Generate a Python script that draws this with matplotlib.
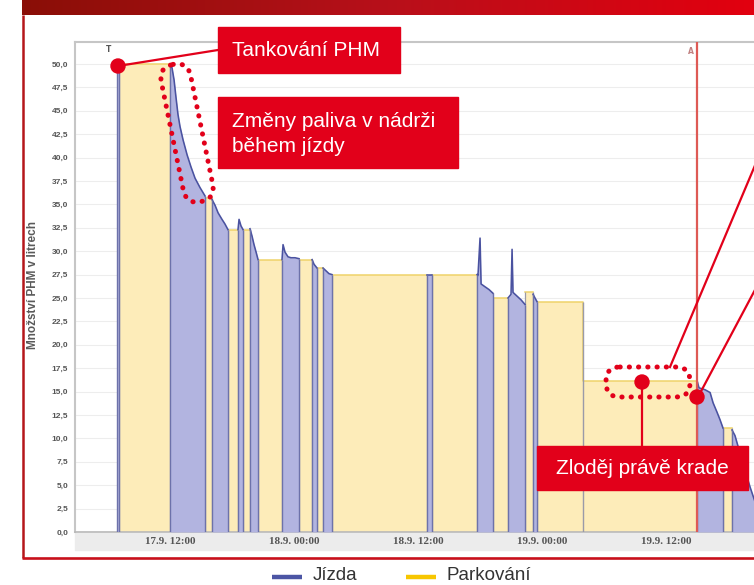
import numpy as np
import matplotlib
matplotlib.use("Agg")
import matplotlib.pyplot as plt
from matplotlib.patches import Rectangle, FancyBboxPatch, Circle
from matplotlib.colors import LinearSegmentedColormap
from matplotlib.transforms import Affine2D

W, H = 754, 585

# úseky záznamu: čas v hodinách od 17.9. 00:00, stav nádrže v litrech
cas_h = [
    [6.82, 7.06],
    [7.06, 12.00],
    [12.00, 12.10, 12.19, 12.39, 12.58, 12.77, 12.97, 13.26, 13.65, 14.03, 14.42, 14.90, 15.39],
    [15.39, 16.07],
    [16.07, 16.36, 16.65, 17.03, 17.32, 17.61],
    [17.61, 18.58],
    [18.58, 18.68, 18.87, 19.07],
    [19.07, 19.74],
    [19.74, 19.94, 20.13, 20.33, 20.52],
    [20.52, 22.84],
    [22.84, 22.94, 23.13, 23.42, 23.71, 24.10, 24.49],
    [24.49, 25.75],
    [25.75, 25.94, 26.23],
    [26.23, 26.81],
    [26.81, 27.10, 27.39, 27.68],
    [27.68, 36.88],
    [36.88, 37.36],
    [37.36, 41.72],
    [41.72, 41.81, 42.01, 42.11, 42.49, 42.88, 43.27],
    [43.27, 44.72],
    [44.72, 45.01, 45.11, 45.20, 45.59, 45.98, 46.37],
    [46.37, 47.14],
    [47.14, 47.33, 47.53],
    [47.53, 51.98, 51.98, 63.02],
    [63.02, 63.21, 63.79, 64.28, 64.57, 64.95, 65.24, 65.53],
    [65.53, 66.40],
    [66.40, 66.69, 67.18, 67.66, 68.15, 68.73],
]
palivo_l = [
    [50.0, 50.0],
    [50.0, 50.0],
    [50.0, 49.8, 49.6, 48.3, 46.4, 44.6, 43.3, 41.9, 40.3, 39.0, 37.8, 36.8, 35.9],
    [35.7, 35.7],
    [35.5, 34.9, 34.1, 33.4, 32.9, 32.3],
    [32.3, 32.3],
    [32.3, 33.4, 32.7, 32.3],
    [32.3, 32.3],
    [32.4, 31.6, 30.7, 29.9, 29.1],
    [29.1, 29.1],
    [29.1, 30.7, 29.9, 29.4, 29.3, 29.3, 29.2],
    [29.1, 29.1],
    [29.1, 28.6, 28.2],
    [28.2, 28.2],
    [28.2, 27.9, 27.6, 27.5],
    [27.5, 27.5],
    [27.5, 27.5],
    [27.5, 27.5],
    [27.5, 27.4, 31.4, 26.5, 26.2, 25.9, 25.5],
    [25.0, 25.0],
    [25.0, 25.4, 30.2, 25.6, 25.2, 24.8, 24.3],
    [25.6, 25.6],
    [25.4, 25.0, 24.6],
    [24.6, 24.6, 16.1, 16.1],
    [16.1, 15.4, 15.2, 14.9, 13.8, 12.8, 12.0, 11.1],
    [11.1, 11.1],
    [10.9, 10.3, 8.4, 6.6, 4.8, 2.9],
]
# J = jízda, P = parkování
rezim = ["J", "P"] * 13 + ["J"]

tick_hod = [12, 24, 36, 48, 60]
tick_popisky = ["17.9. 12:00", "18.9. 00:00", "18.9. 12:00", "19.9. 00:00", "19.9. 12:00"]
y_ticky = np.arange(0, 50.01, 2.5)
cas_alarm = 63.02

MODRA_FILL = "#b2b4e0"
MODRA_CARA = "#4a52a0"
ZLUTA_FILL = "#fdecb9"
ZLUTA_CARA = "#efd36a"
SEDA_HRANA = "#9a9aa8"
CERVENA = "#e2001a"

fig = plt.figure(figsize=(W / 100, H / 100), dpi=100)
fig.patch.set_facecolor("white")

# ── hlavní graf ──────────────────────────────────────────────
ax = fig.add_axes([75 / W, 1 - 532 / H, (W - 75) / W, (532 - 42) / H])
ax.set_xlim(2.8, 68.53)
ax.set_ylim(0, 52.35)

for t, v, r in zip(cas_h, palivo_l, rezim):
    if r == "P":
        ax.fill_between(t, 0, v, color=ZLUTA_FILL, lw=0, zorder=2)
        ax.plot(t, v, color=ZLUTA_CARA, lw=1.1, zorder=3)
        ax.vlines([t[0], t[-1]], 0, [v[0], v[-1]], color=SEDA_HRANA, lw=0.9, zorder=3)
        for i in range(1, len(t)):
            if t[i] == t[i - 1]:
                ax.vlines(t[i], 0, max(v[i], v[i - 1]), color=SEDA_HRANA, lw=1.0, zorder=3)
    else:
        ax.fill_between(t, 0, v, color=MODRA_FILL, lw=0, zorder=4)
        ax.plot(t, v, color=MODRA_CARA, lw=1.15, zorder=5)
        ax.vlines([t[0], t[-1]], 0, [v[0], v[-1]], color="#6d72aa", lw=1.0, zorder=5)

ax.axvline(cas_alarm, color="#de5a55", lw=1.6, zorder=7)
ax.text(cas_h[0][0] - 0.75, 51.5, "T", fontsize=5.5, fontweight="bold",
        color="#555555", ha="center", va="center")
ax.text(cas_alarm - 0.55, 51.3, "A", fontsize=5.5, fontweight="bold",
        color="#c08080", ha="center", va="center")

ax.set_yticks(y_ticky)
ax.set_yticklabels([f"{y:.1f}".replace(".", ",") for y in y_ticky],
                   fontsize=6, fontweight="bold", color="#555555",
                   family="Liberation Sans")
ax.set_xticks(tick_hod)
ax.set_xticklabels(tick_popisky, fontsize=8, fontweight="bold", color="#555555",
                   family="Liberation Serif")
ax.tick_params(axis="y", length=0, pad=5)
ax.tick_params(axis="x", length=0, pad=3.5)
ax.yaxis.grid(True, color="#ededed", lw=0.8)
ax.set_axisbelow(True)
for s in ["left", "top"]:
    ax.spines[s].set_color("#c6c6c6")
    ax.spines[s].set_linewidth(1.5)
ax.spines["bottom"].set_color("#b8b8b8")
ax.spines["bottom"].set_linewidth(1.2)
ax.spines["right"].set_visible(False)

fig.text(33 / W, 1 - 285 / H, "Množství PHM v litrech", rotation=90,
         fontsize=8.5, fontweight="bold", color="#5a5a5a",
         ha="center", va="center", family="Liberation Sans")

# šedý pruh pod osou x
fig.add_artist(Rectangle((75 / W, 1 - 550 / H), (W - 75) / W, 17 / H,
                         transform=fig.transFigure, color="#ececec", zorder=-1))

# ── překryvná vrstva: rámeček, popisky, legenda ─────────────
ov = fig.add_axes([0, 0, 1, 1], zorder=10)
ov.patch.set_alpha(0)
ov.axis("off")

grad = np.linspace(0, 1, 256).reshape(1, -1)
cmap = LinearSegmentedColormap.from_list("hlavicka", ["#8a0e07", "#b8101a", "#e2000f"])
ov.imshow(grad, extent=[22, W, 15, 0], aspect="auto", cmap=cmap, zorder=1)
ov.plot([23, 23], [15, 557.5], color="#b5161a", lw=1.8, solid_capstyle="butt")
ov.plot([22, W], [557.5, 557.5], color="#c8101a", lw=1.9, solid_capstyle="butt")

tecky = dict(fill=False, edgecolor=CERVENA, lw=3.6, linestyle=(0, (0.05, 1.8)),
             capstyle="round", zorder=5)
# tečkovaný obrys kolem poklesu při jízdě
cx, cy = 187, 133
obrys1 = FancyBboxPatch((cx - 15, cy - 70), 30, 140,
                        boxstyle="round,pad=0,rounding_size=15", **tecky)
obrys1.set_transform(Affine2D().rotate_deg_around(cx, cy, -11.5) + ov.transData)
ov.add_patch(obrys1)
ov.add_patch(FancyBboxPatch((606, 367), 84, 30,
                            boxstyle="round,pad=0,rounding_size=14", **tecky))

# spojovací čáry a body
for (x0, y0), (x1, y1) in [((118, 66), (218, 50)), ((642, 382), (642, 446)),
                           ((670, 367), (756, 163)), ((698, 397), (756, 288))]:
    ov.plot([x0, x1], [y0, y1], color=CERVENA, lw=1.6, zorder=6)
for x, y in [(118, 66), (642, 382), (697, 397)]:
    ov.add_patch(Circle((x, y), 7, color=CERVENA, zorder=7))

# červené štítky
popis = dict(color="white", fontsize=15, family="Liberation Sans", zorder=9)
ov.add_patch(Rectangle((218, 27), 182, 46, color=CERVENA, zorder=8))
ov.text(232, 51, "Tankování PHM", ha="left", va="center", **popis)
ov.add_patch(Rectangle((218, 97), 240, 71, color=CERVENA, zorder=8))
ov.text(232, 134, "Změny paliva v nádrži\nběhem jízdy", ha="left", va="center",
        linespacing=1.4, **popis)
ov.add_patch(Rectangle((537, 446), 211, 44, color=CERVENA, zorder=8))
ov.text(642, 468, "Zloděj právě krade", ha="center", va="center", **popis)

# legenda
ov.plot([272, 302], [577, 577], color="#4c55a4", lw=3.2, solid_capstyle="butt")
ov.text(313, 576, "Jízda", fontsize=13.5, color="#333333", va="center",
        family="Liberation Sans")
ov.plot([406, 436], [577, 577], color="#f7c600", lw=3.2, solid_capstyle="butt")
ov.text(447, 576, "Parkování", fontsize=13.5, color="#333333", va="center",
        family="Liberation Sans")

ov.set_xlim(0, W)
ov.set_ylim(H, 0)

fig.savefig("out.png", dpi=100)
